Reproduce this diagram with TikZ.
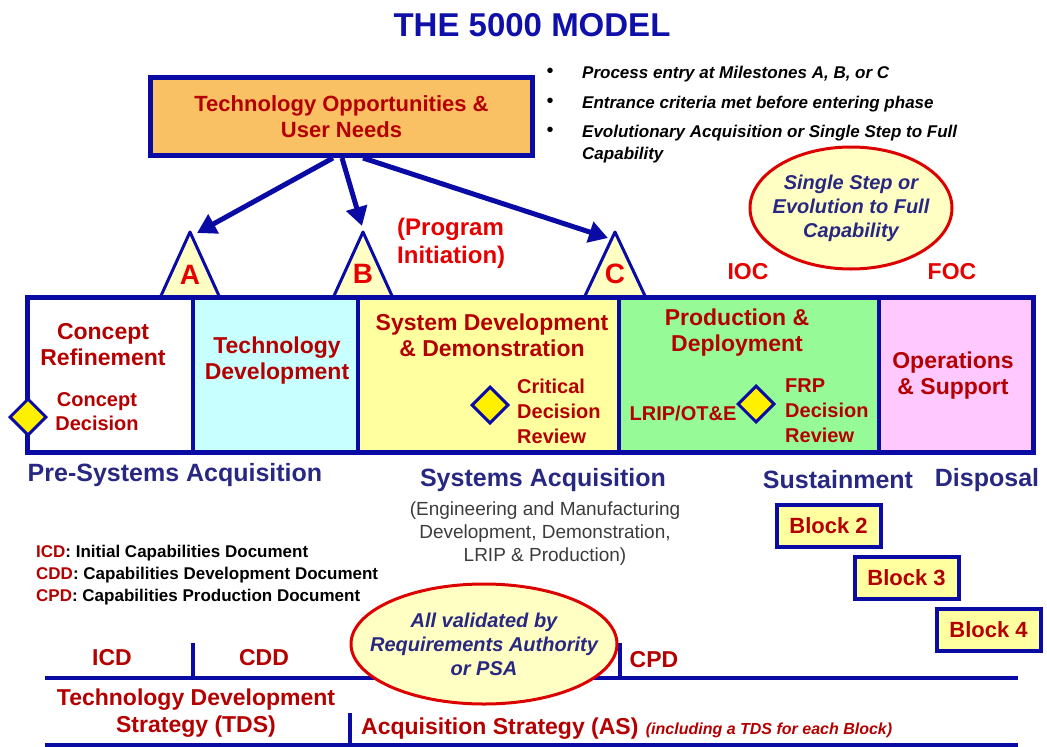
\documentclass[tikz,border=0pt]{standalone}
\usepackage{fontspec}
\setmainfont{Liberation Sans}
\usetikzlibrary{shapes.geometric,arrows.meta,positioning}
\definecolor{lineblue}{RGB}{10,10,165}
\definecolor{titleblue}{RGB}{15,15,170}
\definecolor{navy}{RGB}{40,40,130}
\definecolor{txtred}{RGB}{180,0,0}
\definecolor{brightred}{RGB}{230,0,0}
\definecolor{ovalred}{RGB}{220,0,0}
\definecolor{orangef}{RGB}{250,192,100}
\definecolor{paleyellow}{RGB}{255,255,196}
\definecolor{cyanf}{RGB}{200,255,255}
\definecolor{yellowf}{RGB}{255,255,160}
\definecolor{greenf}{RGB}{150,250,150}
\definecolor{pinkf}{RGB}{255,200,255}
\definecolor{diamondf}{RGB}{255,240,0}
\definecolor{engray}{RGB}{60,60,60}
\newcommand{\fsz}[2]{\fontsize{#1}{#2}\selectfont}
\tikzset{
  phasetxt/.style={font=\fsz{23}{26}\bfseries, text=txtred, align=center, inner sep=0},
  notetxt/.style={font=\fsz{20}{25}\bfseries, text=txtred, align=left, inner sep=0},
  milestone/.style={draw=lineblue, line width=3, fill=paleyellow, line join=round},
  msletter/.style={font=\fsz{28}{30}\bfseries, text=brightred, inner sep=0},
  bigarrow/.style={lineblue, line width=5, -{Triangle[length=19pt,width=21pt]}},
  decision/.style={diamond, aspect=1, draw=lineblue, line width=3, fill=diamondf, minimum width=37, minimum height=37, inner sep=0},
  oval/.style={ellipse, draw=ovalred, line width=3, fill=paleyellow, inner sep=0},
  ovaltxt/.style={text=navy, align=center, inner sep=0, font=\fsz{20}{24}\bfseries\itshape},
  blockbox/.style={draw=lineblue, line width=4, fill=yellowf, text=txtred, minimum width=104, minimum height=42, inner sep=0, font=\fsz{22}{24}\bfseries},
  section/.style={font=\fsz{25}{28}\bfseries, text=navy, inner sep=0},
  dot/.style={inner sep=0, font=\fsz{20}{22}},
  bullettxt/.style={font=\fsz{17}{22}\bfseries\itshape, anchor=base west, inner sep=0, align=left},
  legendtxt/.style={font=\fsz{17}{20}\bfseries, anchor=west, inner sep=0},
  doctxt/.style={font=\fsz{23}{27}\bfseries, text=txtred, inner sep=0, align=center},
  docline/.style={lineblue, line width=4}
}
\begin{document}
\begin{tikzpicture}[x=1pt, y=-1pt]
  \useasboundingbox (0,0) rectangle (1047,747);
  \node[font=\fsz{33}{38}\bfseries, text=titleblue, inner sep=0] (title) at (532,25) {THE 5000 MODEL};
  \node[draw=lineblue, line width=5, fill=orangef, text=txtred, align=center, minimum width=382, minimum height=78, font=\fsz{22}{26}\bfseries] (tou) at (341.5,116.5) {Technology Opportunities \&\\User Needs};
  \node[dot] (d1) at (550,73) {\textbullet};
  \node[dot] (d2) at (550,103) {\textbullet};
  \node[dot] (d3) at (550,132) {\textbullet};
  \node[bullettxt] (p1) at (582,78) {Process entry at Milestones A, B, or C};
  \node[bullettxt] (p2) at (582,108) {Entrance criteria met before entering phase};
  \node[bullettxt] (p3) at (582,159) {Evolutionary Acquisition or Single Step to Full\\Capability};
  \node[oval, minimum width=202, minimum height=122] (single) at (851,208) {};
  \node[ovaltxt] (singletxt) at (single) {Single Step or\\Evolution to Full\\Capability};
  \node[font=\fsz{24}{28}\bfseries, text=brightred, align=left, anchor=west, inner sep=0] (pi) at (397,243) {(Program\\Initiation)};
  \node[font=\fsz{23}{26}\bfseries, text=brightred, inner sep=0] (ioc) at (748,272) {IOC};
  \node[font=\fsz{23}{26}\bfseries, text=brightred, inner sep=0] (foc) at (952,272) {FOC};
  \coordinate (apA) at (190,232);
  \coordinate (apB) at (363,232);
  \coordinate (apC) at (615,232);
  \draw[milestone] (apA) -- ++(-30,66) -- ++(60,0) -- cycle;
  \draw[milestone] (apB) -- ++(-30,66) -- ++(60,0) -- cycle;
  \draw[milestone] (apC) -- ++(-31,66) -- ++(62,0) -- cycle;
  \node[msletter] (mA) at (190,275) {A};
  \node[msletter] (mB) at (363,274) {B};
  \node[msletter] (mC) at (615,274) {C};
  \coordinate (tA) at (333,158);
  \coordinate (tB) at (342,158);
  \coordinate (tC) at (363,158);
  \coordinate (hA) at (197,233);
  \coordinate (hB) at (362,226);
  \coordinate (hC) at (608,238);
  \draw[bigarrow] (tA) -- (hA);
  \draw[bigarrow] (tB) -- (hB);
  \draw[bigarrow] (tC) -- (hC);
  \fill[white] (27,297) rectangle (193,452);
  \fill[cyanf] (193,297) rectangle (358,452);
  \fill[yellowf] (358,297) rectangle (619,452);
  \fill[greenf] (619,297) rectangle (879,452);
  \fill[pinkf] (879,297) rectangle (1033,452);
  \foreach \xd in {193,358,619,879}
    \draw[lineblue, line width=4] (\xd,297) -- (\xd,452);
  \draw[lineblue, line width=5] (27,297) rectangle (1033,452);
  \node[phasetxt] (cr) at (103,345) {Concept\\Refinement};
  \node[notetxt, align=center, font=\fsz{20}{24}\bfseries] (cd) at (97,412) {Concept\\Decision};
  \node[phasetxt] (td) at (277,361) {Technology\\Development};
  \node[phasetxt] (sdd) at (492,335) {System Development\\\& Demonstration};
  \node[notetxt, anchor=west] (cdr) at (517,411) {Critical\\Decision\\Review};
  \node[phasetxt] (pd) at (737,333) {Production \&\\Deployment};
  \node[notetxt] (lrip) at (683,413) {LRIP/OT\&E};
  \node[notetxt, anchor=west] (frp) at (785,411) {FRP\\Decision\\Review};
  \node[phasetxt] (os) at (953,376) {Operations\\\& Support};
  \node[decision] (dcd) at (28,417) {};
  \node[decision] (dcdr) at (490,405) {};
  \node[decision] (dfrp) at (756,404) {};
  \node[section] (psa) at (175,475) {Pre-Systems Acquisition};
  \node[section] (sa) at (543,480) {Systems Acquisition};
  \node[section] (sus) at (838,480) {Sustainment};
  \node[section] (disp) at (987,480) {Disposal};
  \node[font=\fsz{19}{23}, text=engray, align=center, inner sep=0] (emd) at (545,534) {(Engineering and Manufacturing\\Development, Demonstration,\\LRIP \& Production)};
  \node[legendtxt] (licd) at (36,553) {\textcolor{txtred}{ICD}: Initial Capabilities Document};
  \node[legendtxt] (lcdd) at (36,575) {\textcolor{txtred}{CDD}: Capabilities Development Document};
  \node[legendtxt] (lcpd) at (36,597) {\textcolor{txtred}{CPD}: Capabilities Production Document};
  \node[blockbox] (blk2) at (828.5,526) {Block 2};
  \node[blockbox] (blk3) at (906.5,578) {Block 3};
  \node[blockbox] (blk4) at (988.5,630) {Block 4};
  \draw[docline] (45,678) -- (1018,678);
  \draw[docline] (193,643) -- (193,678);
  \draw[docline] (620,643) -- (620,678);
  \node[oval, minimum width=266, minimum height=120] (valid) at (484,644) {};
  \node[ovaltxt] (validtxt) at (valid) {All validated by\\Requirements Authority\\or PSA};
  \node[doctxt] (icd) at (112,658) {ICD};
  \node[doctxt] (cdd) at (264,658) {CDD};
  \node[doctxt] (cpd) at (654,660) {CPD};
  \node[doctxt] (tds) at (196,713) {Technology Development\\Strategy (TDS)};
  \node[doctxt, anchor=west] (as) at (361,729) {Acquisition Strategy (AS)};
  \node[font=\fsz{16}{18}\bfseries\itshape, text=txtred, inner sep=0, anchor=base west, xshift=7pt] (incl) at (as.base east) {(including a TDS for each Block)};
  \draw[docline] (350,713) -- (350,745);
  \draw[docline] (45,745) -- (1018,745);
\end{tikzpicture}
\end{document}
